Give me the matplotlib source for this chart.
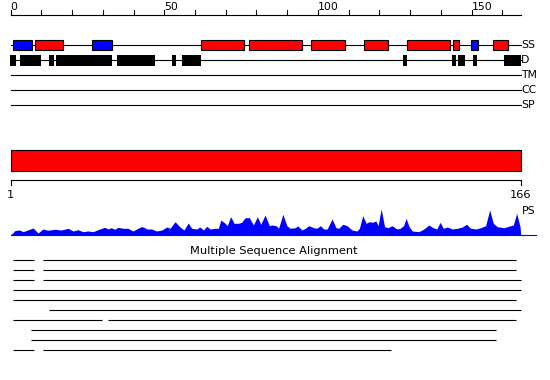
import matplotlib
matplotlib.use("Agg")
import matplotlib.pyplot as plt
from matplotlib.patches import Rectangle

# sequence length and ruler
seq_len = 166
major_ticks = [0, 50, 100, 150]
minor_ticks = list(range(0, 161, 10))

# secondary structure (SS): start, end, type (H = helix red, E = strand blue)
ss_start = [0.85, 7.8, 26.6, 61.8, 77.7, 97.9, 114.9, 128.9, 144.0, 149.9, 156.9]
ss_end = [6.84, 16.9, 32.9, 75.9, 94.8, 108.8, 122.8, 143.0, 145.9, 152.0, 161.9]
ss_type = ['E', 'H', 'E', 'H', 'H', 'H', 'H', 'H', 'H', 'E', 'H']

# disorder (D)
dis_start = [-0.2, 2.9, 12.5, 14.8, 34.6, 52.5, 55.8, 127.8, 143.8, 145.6, 150.6, 160.7]
dis_end = [1.8, 9.8, 14.1, 32.9, 47.0, 53.8, 62.0, 129.1, 145.1, 148.0, 151.9, 166.0]

track_names = ['SS', 'D', 'TM', 'CC', 'SP']

# domain bar
domain_start = [0]
domain_end = [166]

# PS profile (position, height)
ps_pos = [0.0, 0.65, 1.4, 2.9, 4.0, 7.3, 8.9, 10.5, 12.1, 14.3, 16.5, 18.7, 20.3,
          21.9, 23.5, 25.2, 26.8, 28.4, 30.6, 31.7, 32.7, 33.9, 34.9, 36.6, 38.2,
          39.8, 41.4, 42.5, 43.2, 44.3, 45.9, 47.5, 49.2, 50.8, 51.9, 53.5, 55.1,
          56.4, 57.8, 58.9, 60.5, 61.6, 62.7, 63.8, 64.9, 66.5, 67.6, 68.4, 69.8,
          70.5, 71.6, 72.7, 74.1, 75.2, 76.3, 77.7, 79.0, 80.3, 81.4, 82.8, 84.2,
          85.1, 86.4, 87.2, 88.6, 89.9, 91.0, 92.6, 93.5, 94.8, 95.9, 97.0, 98.6,
          99.7, 100.8, 101.9, 103.0, 104.6, 105.9, 106.8, 108.1, 109.5, 111.1,
          112.7, 113.5, 114.6, 115.7, 116.7, 117.8, 118.9, 119.6, 120.6, 121.7,
          122.8, 124.1, 125.8, 126.8, 127.9, 128.7, 129.7, 130.7, 132.9, 134.5,
          136.1, 137.5, 138.7, 139.8, 140.8, 142.1, 143.8, 145.4, 147.0, 148.4,
          149.7, 151.4, 153.0, 154.6, 155.9, 157.1, 158.4, 160.6, 162.8, 163.6,
          164.7, 165.8, 166.0]
ps_val = [0.5, 2, 4.5, 5, 3.3, 7, 2, 6, 4.7, 5.7, 5, 6.7, 4,
          5.3, 3.3, 4, 3.3, 5.3, 7.7, 6, 7.3, 5.7, 7.7, 6.7, 6.7,
          4, 6.7, 8.3, 8, 6, 6, 4, 5, 8, 6.7, 13.3, 8,
          5, 12, 6.7, 6, 8, 5, 8.7, 6, 6.7, 6.7, 15, 11.7,
          9.3, 18.3, 11.7, 11.7, 12.7, 17.3, 17.3, 10, 18.3, 10.7, 20, 9.3,
          10, 9.3, 6.7, 20.7, 9.3, 6.7, 7.3, 9, 5, 6.7, 9.3, 7.3,
          6.7, 9.3, 6, 6, 16, 7.3, 6.7, 10.7, 9.3, 5,
          4, 6.7, 19.3, 11.7, 13.3, 12.7, 14, 9.3, 26, 8.3,
          7.3, 9.3, 6, 6.7, 9.3, 16.7, 8.3, 4, 3.3, 6,
          10, 7.3, 6, 12.7, 6.7, 8, 6, 6.7, 8, 10.7,
          6.7, 6, 7.3, 9.3, 25, 11.7, 8.3, 7.3, 9.3, 10,
          21.7, 8.3, 0]

# multiple sequence alignment rows: list of (start, end) segments
msa_rows = [
    [(0.9, 7.7), (10.6, 164.6)],
    [(0.9, 7.7), (10.6, 164.6)],
    [(0.9, 7.7), (10.6, 166.0)],
    [(0.9, 166.0)],
    [(0.9, 164.6)],
    [(12.6, 166.0)],
    [(0.9, 29.8), (31.8, 164.6)],
    [(6.7, 157.9)],
    [(6.7, 157.9)],
    [(0.9, 7.7), (10.6, 123.7)],
]

W, H = 550, 380
px_per_res = 3.072
x0 = -10.7 / px_per_res
x1 = (W - 10.7) / px_per_res

fig = plt.figure(figsize=(W / 100, H / 100), dpi=100)
ax = fig.add_axes([0, 0, 1, 1])
ax.set_xlim(x0, x1)
ax.set_ylim(H, 0)
ax.axis('off')
lw = 0.8
fs = 7.8

# top ruler
ax.plot([0, seq_len], [14.7, 14.7], color='black', lw=lw)
for t in minor_ticks:
    ax.plot([t, t], [10.3, 14.7], color='black', lw=lw)
for t in major_ticks:
    ax.text(t, 12.5, str(t), fontsize=fs, ha='left', va='bottom')

# feature tracks
track_y = [45.3, 60.3, 75.3, 90.3, 105.3]
for name, y in zip(track_names, track_y):
    ax.plot([0, seq_len], [y, y], color='black', lw=lw, zorder=1)
    ax.text(seq_len + 0.1, y, name, fontsize=fs, ha='left', va='center')

ss_colors = {'H': '#ff0000', 'E': '#0000ff'}
for s, e, t in zip(ss_start, ss_end, ss_type):
    ax.add_patch(Rectangle((s, track_y[0] - 5), e - s, 10, facecolor=ss_colors[t],
                           edgecolor='black', lw=lw, zorder=2))
for s, e in zip(dis_start, dis_end):
    ax.add_patch(Rectangle((s, track_y[1] - 5.3), e - s, 10.6, facecolor='black',
                           edgecolor='none', zorder=2))

# domain bar
for s, e in zip(domain_start, domain_end):
    ax.add_patch(Rectangle((s, 150), e - s, 20.7, facecolor='#ff0000',
                           edgecolor='black', lw=lw))

# second ruler
ax.plot([0, seq_len], [180.3, 180.3], color='black', lw=lw)
ax.plot([0, 0], [180.3, 184.7], color='black', lw=lw)
ax.plot([seq_len, seq_len], [180.3, 184.7], color='black', lw=lw)
ax.text(0, 195.5, '1', fontsize=fs + 0.4, ha='center', va='center')
ax.text(seq_len, 195.5, str(seq_len), fontsize=fs + 0.4, ha='center', va='center')
ax.text(seq_len + 0.3, 211, 'PS', fontsize=fs, ha='left', va='center')

# PS profile
base = 235
ps_y = [base - v for v in ps_val]
ax.fill_between(ps_pos, ps_y, base, color='#0000ff', lw=0, zorder=2)
ax.plot([0, (535.7 - 10.7) / px_per_res], [base, base], color='#0000ff', lw=lw)

# alignment
ax.text(85.7, 250.5, 'Multiple Sequence Alignment', fontsize=fs + 0.4,
        ha='center', va='center')
for i, row in enumerate(msa_rows):
    y = 260.3 + 10 * i
    for s, e in row:
        ax.plot([s, e], [y, y], color='black', lw=lw, solid_capstyle='butt')

fig.savefig('out.png', dpi=100)
